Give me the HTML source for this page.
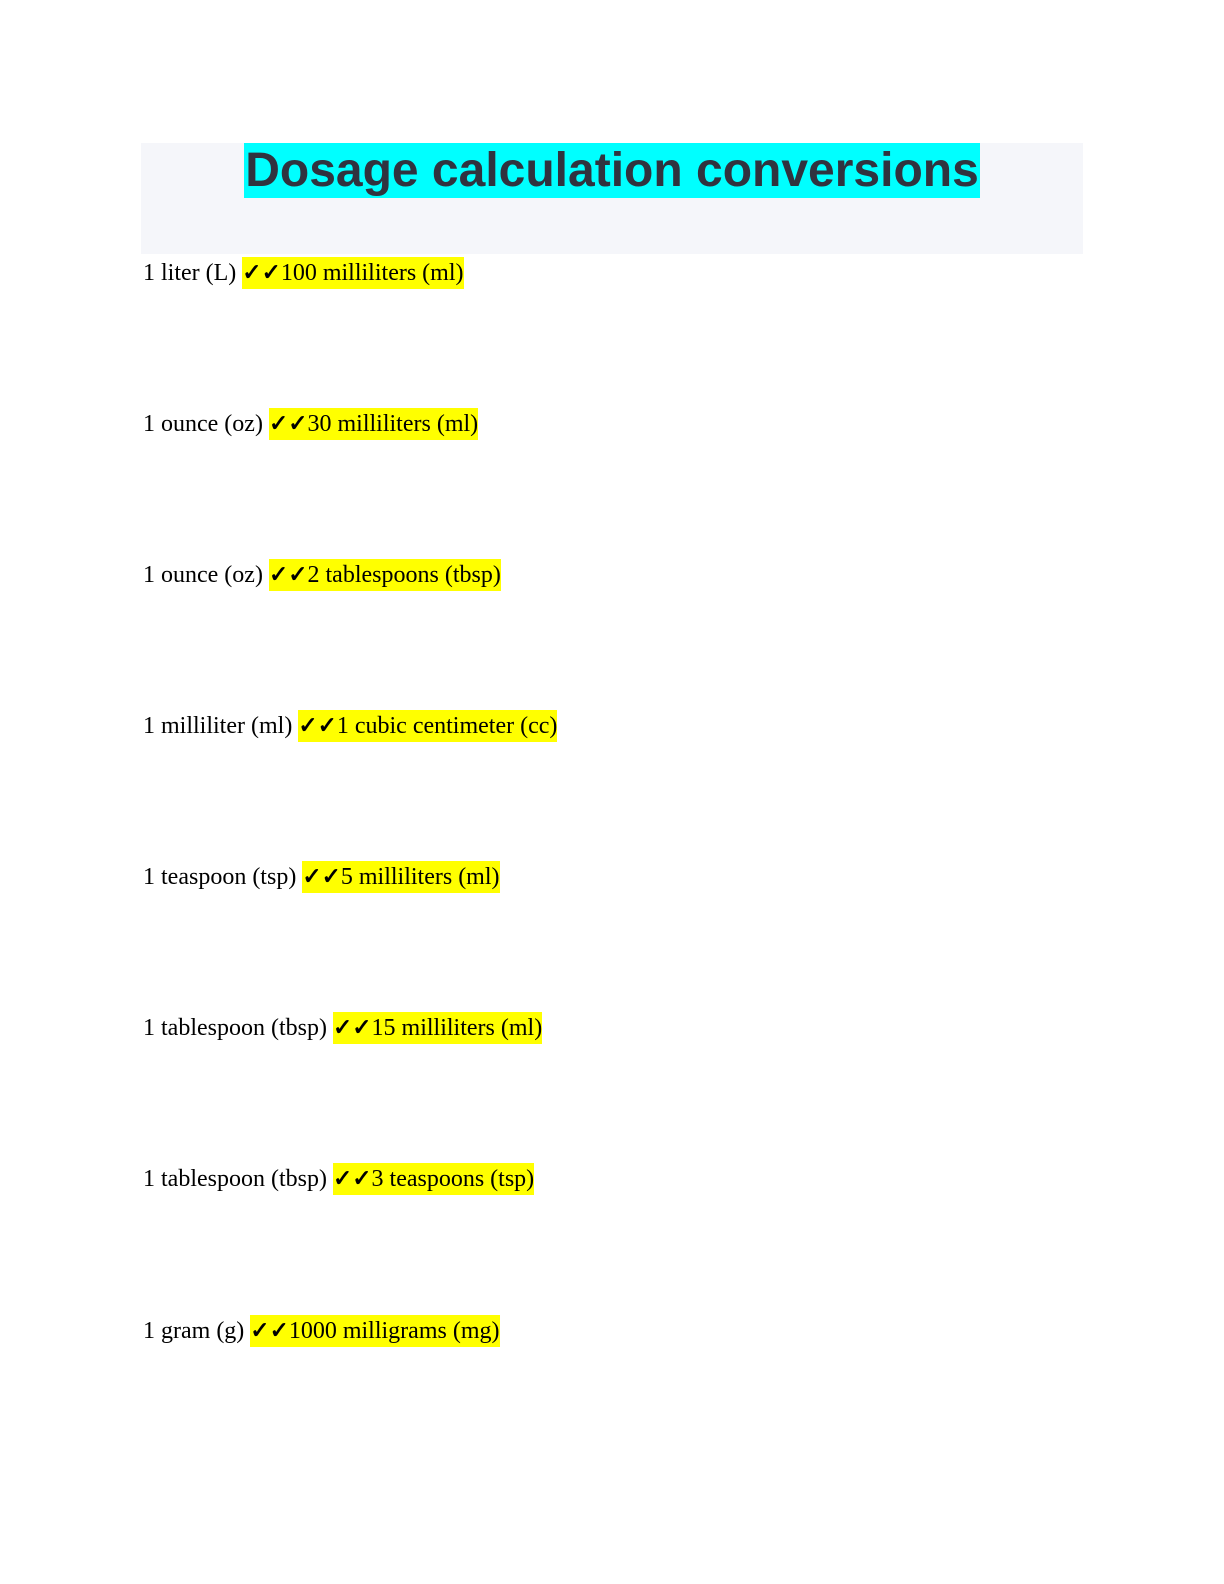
<!DOCTYPE html>
<html><head><meta charset="utf-8"><style>
body{margin:0;width:1224px;height:1584px;background:#fff;position:relative;overflow:hidden}
.box{position:absolute;left:141px;top:143px;width:942px;height:111px;background:#f5f6fa}
.title{position:absolute;left:0;top:143px;width:1224px;text-align:center}
.title span{background:#00ffff;color:#30333f;font:bold 48px/55px "Liberation Sans",sans-serif;display:inline-block;padding:0 1px}
.row{position:absolute;left:143px;font:24px/32px "Liberation Serif",serif;color:#000;white-space:pre}
.row span{background:#ffff00;display:inline-block}
.c{font-family:"DejaVu Sans",sans-serif;font-size:23px;font-weight:bold;-webkit-text-stroke:0.8px #000}
</style></head><body>
<div class="box"></div>
<div class="title"><span>Dosage calculation conversions</span></div>
<div class="row" style="top:257px">1 liter (L) <span><b class="c">✓✓</b>100 milliliters (ml)</span></div>
<div class="row" style="top:408px">1 ounce (oz) <span><b class="c">✓✓</b>30 milliliters (ml)</span></div>
<div class="row" style="top:559px">1 ounce (oz) <span><b class="c">✓✓</b>2 tablespoons (tbsp)</span></div>
<div class="row" style="top:710px">1 milliliter (ml) <span><b class="c">✓✓</b>1 cubic centimeter (cc)</span></div>
<div class="row" style="top:861px">1 teaspoon (tsp) <span><b class="c">✓✓</b>5 milliliters (ml)</span></div>
<div class="row" style="top:1012px">1 tablespoon (tbsp) <span><b class="c">✓✓</b>15 milliliters (ml)</span></div>
<div class="row" style="top:1163px">1 tablespoon (tbsp) <span><b class="c">✓✓</b>3 teaspoons (tsp)</span></div>
<div class="row" style="top:1315px">1 gram (g) <span><b class="c">✓✓</b>1000 milligrams (mg)</span></div>
</body></html>
